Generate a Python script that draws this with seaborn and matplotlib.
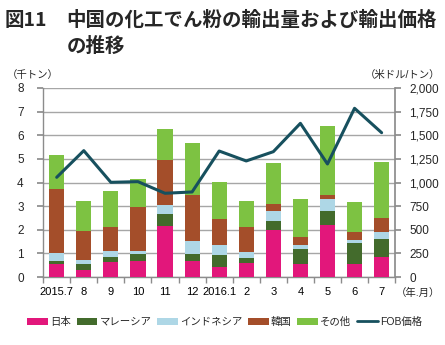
import numpy as np
import pandas as pd
import matplotlib
matplotlib.use("Agg")
import matplotlib.pyplot as plt
import seaborn as sns
from matplotlib.patches import Patch
from matplotlib.lines import Line2D
from matplotlib.ticker import FuncFormatter

# ---- data ----
months = ["2015.7", "8", "9", "10", "11", "12", "2016.1", "2", "3", "4", "5", "6", "7"]
japan = [0.55, 0.28, 0.62, 0.69, 2.16, 0.69, 0.44, 0.61, 1.98, 0.54, 2.19, 0.55, 0.83]
malaysia = [0.14, 0.28, 0.23, 0.28, 0.50, 0.28, 0.51, 0.18, 0.41, 0.63, 0.62, 0.87, 0.78]
indonesia = [0.31, 0.16, 0.25, 0.12, 0.38, 0.54, 0.41, 0.26, 0.42, 0.19, 0.51, 0.16, 0.30]
korea = [2.73, 1.23, 1.00, 1.88, 1.92, 1.96, 1.11, 1.07, 0.30, 0.32, 0.17, 0.33, 0.59]
other = [1.42, 1.27, 1.54, 1.17, 1.30, 2.22, 1.54, 1.10, 1.72, 1.63, 2.88, 1.27, 2.37]
fob = [1055, 1337, 1002, 1009, 886, 900, 1333, 1228, 1326, 1626, 1196, 1785, 1527]

series_names = ["日本", "マレーシア", "インドネシア", "韓国", "その他"]
series_vals = [japan, malaysia, indonesia, korea, other]
colors = ["#E2177B", "#436B2C", "#AED7E6", "#A44E2A", "#7DC242"]
line_color = "#17505E"

sns.set_theme(style="white")
plt.rcParams["font.family"] = ["Liberation Sans", "Noto Sans CJK JP", "DejaVu Sans"]

fig = plt.figure(figsize=(4.45, 3.45), dpi=100)
ax = fig.add_axes([0.097, 0.197, 0.791, 0.548])

cum = np.cumsum(np.array(series_vals), axis=0)
df = pd.DataFrame({"month": months})
for i in range(len(series_names) - 1, -1, -1):
    df["v"] = cum[i]
    sns.barplot(data=df, x="month", y="v", color=colors[i], width=0.56,
                saturation=1, edgecolor="none", linewidth=0, ax=ax, zorder=3)

ax.set_ylim(0, 8)
ax.set_xlim(-0.5, len(months) - 0.5)
ax.set_yticks(range(0, 9))
ax.set_xlabel("")
ax.set_ylabel("")
ax.grid(axis="y", color="#A6A6A6", linewidth=1.0, zorder=0)
ax.set_axisbelow(True)
for s in ["top", "right"]:
    ax.spines[s].set_visible(False)
for s in ["left", "bottom"]:
    ax.spines[s].set_color("#8C8C8C")
    ax.spines[s].set_linewidth(1.0)
ax.set_xticks(np.arange(-0.5, len(months), 1.0), minor=True)
ax.tick_params(axis="x", which="major", length=0, labelsize=8, pad=7, colors="black")
ax.tick_params(axis="x", which="minor", length=4, color="#8C8C8C", direction="out", bottom=True)
ax.tick_params(axis="y", length=4, color="#8C8C8C", direction="out", labelsize=8.5, pad=10, left=True)

ax2 = ax.twinx()
sns.lineplot(x=np.arange(len(months)), y=fob, color=line_color, linewidth=2.2, ax=ax2, zorder=5)
ax2.set_ylim(0, 2000)
ax2.set_yticks(range(0, 2001, 250))
ax2.yaxis.set_major_formatter(FuncFormatter(lambda v, p: f"{int(v):,}"))
ax2.tick_params(axis="y", length=4, color="#8C8C8C", direction="out", labelsize=8.5, pad=6, right=True)
for s in ["top", "left", "bottom"]:
    ax2.spines[s].set_visible(False)
ax2.spines["right"].set_color("#8C8C8C")
ax2.grid(False)
ax2.set_ylabel("")

# titles and unit labels
tfam = ["Noto Sans CJK JP"]
fig.text(0.010, 0.94, "図11", fontsize=14, fontweight="bold", family=tfam, va="center", ha="left")
fig.text(0.150, 0.94, "中国の化工でん粉の輸出量および輸出価格", fontsize=14, fontweight="bold",
         family=tfam, va="center", ha="left")
fig.text(0.150, 0.866, "の推移", fontsize=14, fontweight="bold",
         family=tfam, va="center", ha="left")
fig.text(0.015, 0.782, "（千トン）", fontsize=7.5, va="center", ha="left")
fig.text(0.99, 0.782, "（米ドル/トン）", fontsize=7.5, va="center", ha="right")
fig.text(0.99, 0.152, "（年.月）", fontsize=7.5, va="center", ha="right")

handles = [Patch(facecolor=c, edgecolor="none", label=n) for c, n in zip(colors, series_names)]
handles.append(Line2D([0], [0], color=line_color, linewidth=2, label="FOB価格"))
fig.legend(handles=handles, loc="center", bbox_to_anchor=(0.505, 0.067), ncol=6, frameon=False,
           fontsize=7.5, handlelength=2.0, handleheight=0.6, handletextpad=0.2, columnspacing=0.55,
           borderaxespad=0, borderpad=0)

fig.savefig("out.png", dpi=100)
